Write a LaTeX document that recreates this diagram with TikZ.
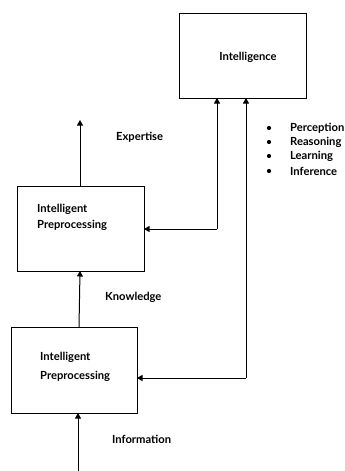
\documentclass[tikz,border=0pt]{standalone}
\usepackage{fontspec}
\setmainfont{Lato}
\usetikzlibrary{arrows.meta}
\begin{document}
\begin{tikzpicture}[x=1pt,y=-1pt,
  box/.style={draw,line width=1pt},
  conn/.style={line width=1pt,-{Triangle[width=6pt,length=5.5pt]}},
  lbl/.style={font=\fontsize{11.2}{12}\selectfont\bfseries,inner sep=0pt},
  bul/.style={font=\fontsize{11.2}{12}\selectfont\bfseries,inner sep=0pt,anchor=west}]
\useasboundingbox (0,0) rectangle (345,471);
\draw[box] (179,13) rectangle (306,98);
\node[lbl] (tint) at (248,57) {Intelligence};
\draw[box] (17,186) rectangle (144,271);
\draw[box] (11,327) rectangle (137,413);
\node[lbl,anchor=west] (tmid1) at (37,209) {Intelligent};
\node[lbl,anchor=west] (tmid2) at (37,225) {Preprocessing};
\node[lbl,anchor=west] (tbot1) at (40,357) {Intelligent};
\node[lbl,anchor=west] (tbot2) at (40,376) {Preprocessing};
\coordinate (ibot1) at (217,98);
\coordinate (ibot2) at (246,98);
\coordinate (mright) at (144,229);
\coordinate (bright) at (137,378);
\coordinate (mtop) at (80,186);
\coordinate (mbot) at (80,271);
\coordinate (btop) at (79,327);
\coordinate (bbot) at (78,413);
\coordinate (expend) at (80,120);
\coordinate (infoend) at (78,471);
\coordinate (c1) at (217,229);
\coordinate (c2) at (246,378);
\draw[conn] (mtop) -- (expend);
\draw[conn] (btop) -- (mbot);
\draw[conn] (infoend) -- (bbot);
\draw[conn] (c1) -- (mright);
\draw[conn] (c1) -- (ibot1);
\draw[conn] (c2) -- (bright);
\draw[conn] (c2) -- (ibot2);
\node[lbl,anchor=west] (texp) at (116,137) {Expertise};
\node[lbl,anchor=west] (tknow) at (105,297) {Knowledge};
\node[lbl,anchor=west] (tinfo) at (112,439) {Information};
\foreach \t/\y/\n in {Perception/128/a,Reasoning/142/b,Learning/156/c,Inference/171/d}{
  \fill (269,\y) circle (2.1pt);
  \node[bul] (b\n) at (290,\y) {\t};
}
\end{tikzpicture}
\end{document}
